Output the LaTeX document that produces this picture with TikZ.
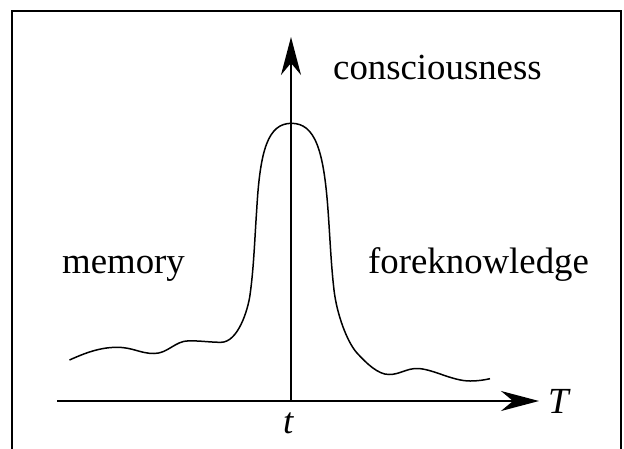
\documentclass[tikz,border=0pt]{standalone}
\usepackage{fontspec}
\setmainfont{Liberation Serif}
\usetikzlibrary{arrows.meta}
\begin{document}
\begin{tikzpicture}[x=1pt,y=-1pt,
  lbl/.style={inner sep=0pt,anchor=base west,font=\fontsize{36.8}{40}\selectfont},
  axis/.style={line width=1.9pt,-{Stealth[length=38pt,width=20pt,inset=12pt]}},
  wave/.style={line width=1.5pt}]
\clip (0,0) rectangle (624,448);
\fill[white] (0,0) rectangle (624,448);
\draw[line width=2.3pt] (12,11) rectangle (621,480);
% axes
\coordinate (o) at (291,401);
\coordinate (xs) at (57,401);
\coordinate (xe) at (539,401);
\coordinate (ye) at (291,37);
\draw[axis] (xs) -- (xe);
\draw[axis] (o) -- (ye);
% curve
\draw[wave] (69.5,360)
  .. controls (85,353) and (100,347.3) .. (117,347.3)
  .. controls (133,347.3) and (140,353.5) .. (154,353.5)
  .. controls (168,353.5) and (175,340.8) .. (189,340.8)
  .. controls (202,340.8) and (210,342.3) .. (221,342.3)
  .. controls (238,342.3) and (247.9,310) .. (250,295)
  .. controls (253.9,267) and (254.7,238) .. (256.7,210)
  .. controls (260,150) and (268,123.3) .. (291.5,123.3)
  .. controls (315,123.3) and (323.7,150) .. (328,210)
  .. controls (330,237) and (330.9,263) .. (334,290)
  .. controls (336.9,315) and (347.5,342.6) .. (357,353)
  .. controls (366.5,363.4) and (378,374.5) .. (389,374.5)
  .. controls (400,374.5) and (406,368.5) .. (417,368.5)
  .. controls (432,368.5) and (452,381) .. (470,381)
  .. controls (478,381) and (484,380) .. (490,378.7);
% labels
\node[lbl] (cons) at (333,79) {consciousness};
\node[lbl] (mem) at (62,273) {memory};
\node[lbl] (fore) at (368,273) {foreknowledge};
\node[lbl] (T) at (548,413) {\itshape T};
\node[lbl] (t) at (283,433) {\itshape t};
\end{tikzpicture}
\end{document}
